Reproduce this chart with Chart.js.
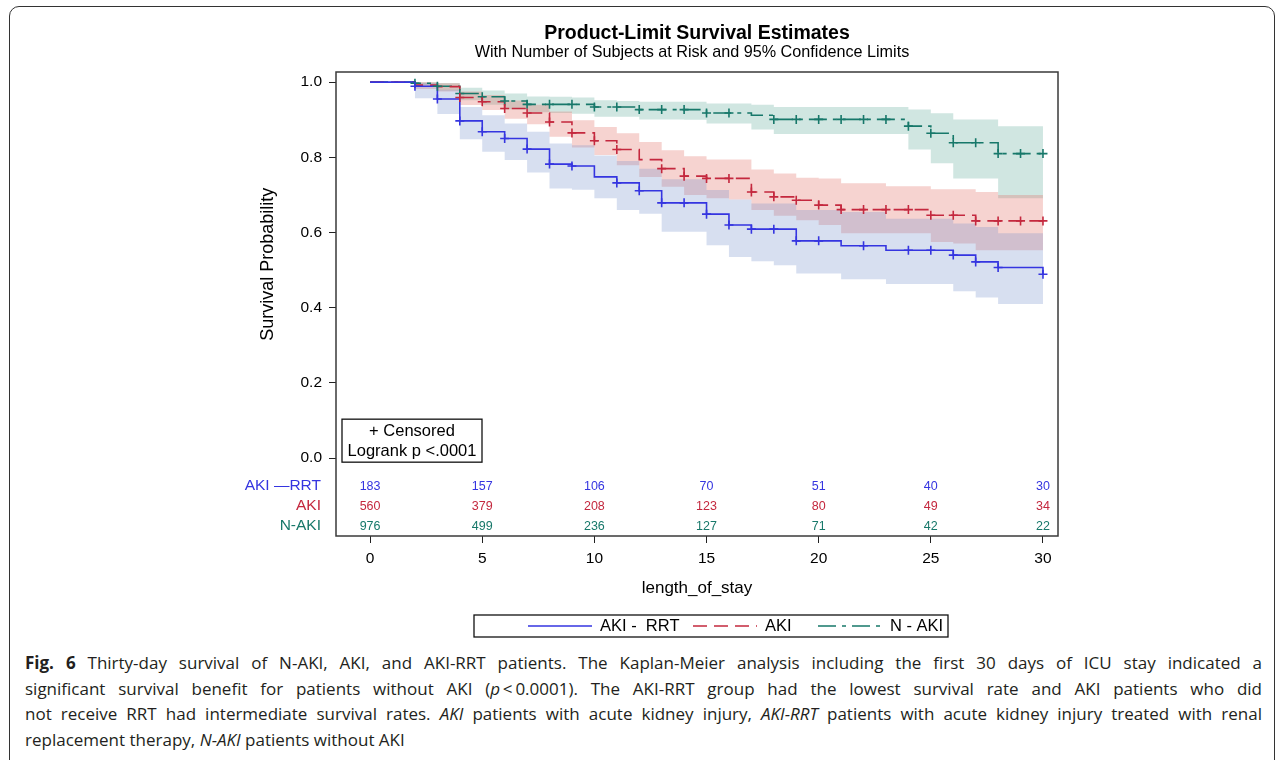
<!DOCTYPE html>
<html>
<head>
<meta charset="utf-8">
<script src="https://cdn.jsdelivr.net/npm/chart.js@4.4.1/dist/chart.umd.min.js"></script>
<style>
  html, body { margin: 0; padding: 0; background: #fff; }
  body { width: 1281px; height: 760px; position: relative; overflow: hidden; }
  #frame { position: absolute; left: 9px; top: 6px; width: 1266px; height: 820px; border: 1.5px solid #333; border-radius: 10px; box-sizing: border-box; }
  #plot { position: absolute; left: 0; top: 0; }
  #caption { position: absolute; left: 25px; top: 650px; width: 1237px; font-family: "Open Sans", sans-serif; font-size: 17px; color: #231f20; }
  #caption div { height: 25.5px; line-height: 25.5px; text-align: justify; text-align-last: justify; white-space: nowrap; }
  #caption div.last { text-align-last: left; }
</style>
</head>
<body>
<div id="frame"></div>
<canvas id="plot" width="1281" height="640"></canvas>
<div id="caption">
  <div><b>Fig. 6</b> Thirty-day survival of N-AKI, AKI, and AKI-RRT patients. The Kaplan-Meier analysis including the first 30 days of ICU stay indicated a</div>
  <div>significant survival benefit for patients without AKI (<i>p</i>&#8201;&lt;&#8201;0.0001). The AKI-RRT group had the lowest survival rate and AKI patients who did</div>
  <div>not receive RRT had intermediate survival rates. <i>AKI</i> patients with acute kidney injury, <i>AKI-RRT</i> patients with acute kidney injury treated with renal</div>
  <div class="last">replacement therapy, <i>N-AKI</i> patients without AKI</div>
</div>
<script>
// days of stay (x) and at-risk table columns
const days = [0, 1, 2, 3, 4, 5, 6, 7, 8, 9, 10, 11, 12, 13, 14, 15, 16, 17, 18, 19, 20, 21, 22, 23, 24, 25, 26, 27, 28, 29, 30];
const xTicks = [0, 5, 10, 15, 20, 25, 30];
const yTicks = [0, 0.2, 0.4, 0.6, 0.8, 1.0];
const riskDays = [0, 5, 10, 15, 20, 25, 30];

// AKI-RRT
const rrtSurv = [1.000, 1.000, 0.989, 0.955, 0.897, 0.868, 0.850, 0.822, 0.782, 0.777, 0.748, 0.732, 0.711, 0.679, 0.679, 0.649, 0.620, 0.609, 0.609, 0.578, 0.578, 0.565, 0.565, 0.553, 0.553, 0.553, 0.540, 0.522, 0.507, 0.507, 0.489];
const rrtUpper = [1.000, 1.000, 0.998, 0.980, 0.934, 0.912, 0.890, 0.868, 0.837, 0.832, 0.805, 0.790, 0.770, 0.742, 0.742, 0.713, 0.688, 0.677, 0.677, 0.660, 0.660, 0.655, 0.655, 0.637, 0.637, 0.637, 0.624, 0.615, 0.598, 0.598];
const rrtLower = [1.000, 1.000, 0.957, 0.915, 0.848, 0.815, 0.793, 0.760, 0.717, 0.714, 0.691, 0.660, 0.650, 0.602, 0.602, 0.566, 0.535, 0.524, 0.513, 0.491, 0.491, 0.476, 0.476, 0.463, 0.463, 0.463, 0.444, 0.427, 0.410, 0.410];
const rrtCensor = [2, 3, 4, 5, 6, 7, 8, 9, 11, 12, 13, 14, 15, 16, 17, 18, 19, 20, 22, 24, 25, 26, 27, 28, 30];
const rrtRisk = [183, 157, 106, 70, 51, 40, 30];

// AKI
const akiSurv = [1.000, 1.000, 0.992, 0.988, 0.959, 0.948, 0.930, 0.918, 0.894, 0.865, 0.844, 0.821, 0.794, 0.770, 0.750, 0.744, 0.744, 0.708, 0.695, 0.686, 0.673, 0.661, 0.661, 0.661, 0.661, 0.646, 0.646, 0.631, 0.631, 0.631, 0.631];
const akiUpper = [1.000, 1.000, 1.000, 0.997, 0.975, 0.966, 0.951, 0.940, 0.922, 0.899, 0.881, 0.864, 0.841, 0.819, 0.803, 0.794, 0.794, 0.768, 0.757, 0.746, 0.744, 0.731, 0.731, 0.723, 0.723, 0.715, 0.715, 0.708, 0.700, 0.700];
const akiLower = [1.000, 1.000, 0.982, 0.975, 0.939, 0.926, 0.903, 0.888, 0.855, 0.826, 0.806, 0.779, 0.748, 0.722, 0.700, 0.691, 0.688, 0.660, 0.645, 0.633, 0.620, 0.598, 0.598, 0.598, 0.598, 0.575, 0.571, 0.553, 0.553, 0.553];
const akiCensor = [4, 5, 6, 7, 8, 9, 10, 11, 13, 14, 15, 16, 17, 18, 19, 20, 21, 22, 23, 24, 25, 26, 27, 28, 29, 30];
const akiRisk = [560, 379, 208, 123, 80, 49, 34];

// N-AKI
const naSurv = [1.000, 1.000, 0.997, 0.989, 0.970, 0.961, 0.950, 0.941, 0.941, 0.941, 0.934, 0.934, 0.927, 0.927, 0.927, 0.918, 0.918, 0.912, 0.901, 0.901, 0.901, 0.901, 0.901, 0.901, 0.883, 0.864, 0.839, 0.839, 0.810, 0.810, 0.810];
const naUpper = [1.000, 1.000, 1.000, 0.998, 0.985, 0.978, 0.970, 0.962, 0.961, 0.959, 0.952, 0.950, 0.948, 0.948, 0.948, 0.943, 0.943, 0.940, 0.934, 0.934, 0.934, 0.934, 0.934, 0.934, 0.927, 0.917, 0.901, 0.901, 0.883, 0.883];
const naLower = [1.000, 1.000, 0.992, 0.978, 0.952, 0.940, 0.928, 0.920, 0.918, 0.916, 0.908, 0.908, 0.901, 0.901, 0.900, 0.890, 0.890, 0.874, 0.862, 0.862, 0.862, 0.862, 0.862, 0.862, 0.821, 0.784, 0.744, 0.744, 0.691, 0.691];
const naCensor = [2, 3, 4, 5, 6, 7, 8, 9, 10, 11, 12, 13, 14, 15, 16, 18, 19, 20, 21, 22, 23, 24, 25, 26, 27, 28, 29, 30];
const naRisk = [976, 499, 236, 127, 71, 42, 22];

const FONT = '"Liberation Sans", Arial, sans-serif';
const BLUE = "#3535e0";
const RED = "#c4283e";
const TEAL = "#17786a";

const groups = [
	{ label: "AKI \u2014RRT", legend: "AKI -  RRT", color: BLUE, band: "rgba(110,140,200,0.28)", dash: [], surv: rrtSurv, upper: rrtUpper, lower: rrtLower, censor: rrtCensor, risk: rrtRisk },
	{ label: "AKI", legend: "AKI", color: RED, band: "rgba(225,110,100,0.30)", dash: [14, 7], surv: akiSurv, upper: akiUpper, lower: akiLower, censor: akiCensor, risk: akiRisk },
	{ label: "N-AKI", legend: "N - AKI", color: TEAL, band: "rgba(40,140,120,0.22)", dash: [18, 6, 4, 6], surv: naSurv, upper: naUpper, lower: naLower, censor: naCensor, risk: naRisk },
];

// step points; band gets a closing point at the last day
const stepPts = vals => vals.map((v, i) => ({ x: days[i], y: v }));
const bandPts = vals => stepPts(vals).concat([{ x: days[vals.length], y: vals[vals.length - 1] }]);

const datasets = [];
groups.forEach(g => {
	datasets.push({ data: bandPts(g.upper), stepped: true, fill: "+1", backgroundColor: g.band, borderColor: "transparent", borderWidth: 0, pointRadius: 0, order: 5 });
	datasets.push({ data: bandPts(g.lower), stepped: true, fill: false, borderColor: "transparent", borderWidth: 0, pointRadius: 0, order: 5 });
});
groups.forEach(g => {
	datasets.push({ data: stepPts(g.surv), stepped: true, fill: false, borderColor: g.color, borderWidth: 1.6, borderDash: g.dash, pointRadius: 0, order: 1 });
	datasets.push({
		data: g.censor.map(d => ({ x: d, y: g.surv[days.indexOf(d)] })),
		showLine: false,
		pointStyle: "cross",
		pointRadius: 4.5,
		pointBorderWidth: 1.6,
		pointBorderColor: g.color,
		order: 0,
	});
});

const extras = {
	id: "extras",
	afterDraw(chart) {
		const { ctx, chartArea: a, scales: { x, y } } = chart;
		const y0 = y.getPixelForValue(0);
		ctx.save();

		// plot frame
		ctx.strokeStyle = "#3a3a3a";
		ctx.lineWidth = 1.5;
		ctx.strokeRect(a.left, a.top, a.right - a.left, a.bottom - a.top);

		// titles
		ctx.fillStyle = "#000";
		ctx.textAlign = "center";
		ctx.textBaseline = "middle";
		ctx.font = "bold 19.5px " + FONT;
		ctx.fillText("Product-Limit Survival Estimates", 697, 34);
		ctx.font = "16.2px " + FONT;
		ctx.fillText("With Number of Subjects at Risk and 95% Confidence Limits", 692, 53);

		// y title
		ctx.save();
		ctx.translate(268, (y0 + y.getPixelForValue(1)) / 2 - 6);
		ctx.rotate(-Math.PI / 2);
		ctx.font = "18px " + FONT;
		ctx.fillText("Survival Probability", 0, 0);
		ctx.restore();

		// number at risk
		groups.forEach((g, r) => {
			const py = y0 + 28 + r * 20;
			ctx.fillStyle = g.color;
			ctx.textAlign = "right";
			ctx.font = "15.5px " + FONT;
			ctx.fillText(g.label, a.left - 15, py);
			ctx.textAlign = "center";
			ctx.font = "12.5px " + FONT;
			g.risk.forEach((n, i) => ctx.fillText(String(n), x.getPixelForValue(riskDays[i]), py));
		});

		// censored / logrank box
		ctx.strokeStyle = "#111";
		ctx.lineWidth = 1.3;
		ctx.strokeRect(a.left + 6, y0 - 39, 140, 43);
		ctx.fillStyle = "#000";
		ctx.font = "16.5px " + FONT;
		ctx.fillText("+ Censored", a.left + 76, y0 - 27);
		ctx.fillText("Logrank p <.0001", a.left + 76, y0 - 7);

		// legend
		ctx.strokeRect(474, 615, 474, 22);
		const items = [[528, 600], [693, 765], [818, 890]];
		groups.forEach((g, i) => {
			const [lx, tx] = items[i];
			ctx.strokeStyle = g.color;
			ctx.lineWidth = 1.6;
			ctx.setLineDash(g.dash);
			ctx.beginPath();
			ctx.moveTo(lx, 626);
			ctx.lineTo(lx + 64, 626);
			ctx.stroke();
			ctx.setLineDash([]);
			ctx.fillStyle = "#000";
			ctx.textAlign = "left";
			ctx.fillText(g.legend, tx, 626);
		});

		ctx.restore();
	},
};

new Chart(document.getElementById("plot"), {
	type: "line",
	data: { datasets },
	plugins: [extras],
	options: {
		responsive: false,
		animation: false,
		devicePixelRatio: 1,
		layout: { padding: { left: 236, right: 223, top: 72, bottom: 34 } },
		plugins: {
			legend: { display: false },
			tooltip: { enabled: false },
		},
		scales: {
			x: {
				type: "linear",
				min: -1.52,
				max: 30.67,
				afterBuildTicks: s => {
					s.ticks = xTicks.map(v => ({ value: v }));
				},
				afterFit: s => {
					s.height = 70;
				},
				grid: { drawOnChartArea: false, drawTicks: true, tickLength: 7, color: "#222" },
				border: { display: false },
				ticks: { padding: 6, color: "#000", font: { family: FONT, size: 15.5 }, maxRotation: 0, autoSkip: false },
				title: { display: true, text: "length_of_stay", color: "#000", font: { family: FONT, size: 17 }, padding: { top: 0, bottom: 7 } },
			},
			y: {
				min: -0.207,
				max: 1.027,
				afterBuildTicks: s => {
					s.ticks = yTicks.map(v => ({ value: v }));
				},
				afterFit: s => {
					s.width = 100;
				},
				grid: { drawOnChartArea: false, drawTicks: true, tickLength: 7, color: "#222" },
				border: { display: false },
				ticks: { padding: 7, color: "#000", font: { family: FONT, size: 15.5 }, callback: v => v.toFixed(1) },
			},
		},
	},
});
</script>
</body>
</html>
